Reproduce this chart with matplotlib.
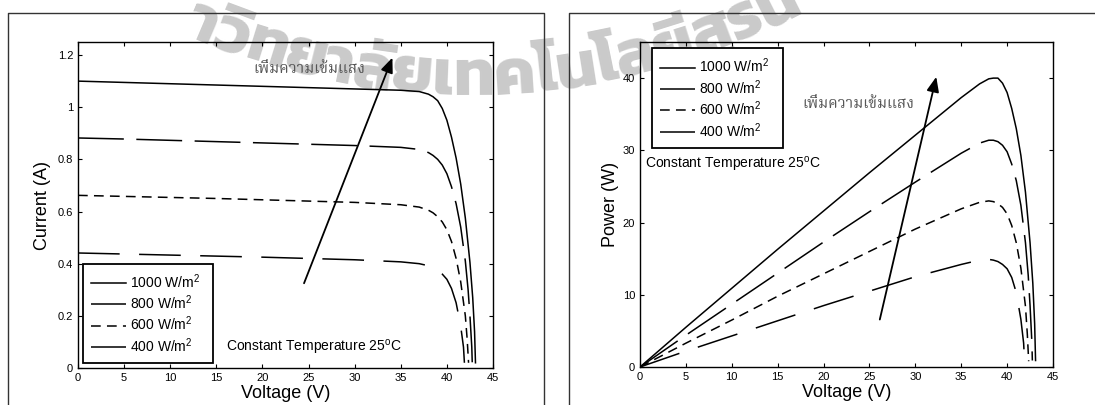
import math
import matplotlib
matplotlib.use('Agg')
import matplotlib.pyplot as plt
from matplotlib.ticker import FormatStrFormatter
from matplotlib.lines import Line2D

plt.rcParams['font.family'] = ['Liberation Sans', 'DejaVu Sans']
plt.rcParams['mathtext.fontset'] = 'custom'
plt.rcParams['mathtext.rm'] = 'Liberation Sans'
plt.rcParams['mathtext.it'] = 'Liberation Sans:italic'
plt.rcParams['lines.scale_dashes'] = False

labels = ['1000 W/m$^2$  ', '800 W/m$^2$  ', '600 W/m$^2$  ', '400 W/m$^2$  ']

v1000 = [0, 5, 10, 15, 20, 25, 30, 35, 37, 38, 38.5, 39, 39.5, 40, 40.5, 41, 41.5, 42, 42.5, 42.8, 43.0, 43.1]
i1000 = [1.100, 1.095, 1.090, 1.085, 1.080, 1.075, 1.070, 1.065, 1.060, 1.050, 1.040, 1.025, 0.995, 0.950, 0.885, 0.805, 0.705, 0.575, 0.405, 0.270, 0.140, 0.020]
p1000 = [0, 5.5, 10.9, 16.3, 21.6, 26.9, 32.1, 37.3, 39.2, 39.9, 40.0, 40.0, 39.3, 38.0, 35.8, 33.0, 29.3, 24.2, 17.2, 11.6, 6.0, 0.9]

v800 = [0, 5, 10, 15, 20, 25, 30, 35, 37, 38, 38.5, 39, 39.5, 40, 40.5, 41, 41.5, 42, 42.3, 42.5, 42.7, 42.75]
i800 = [0.882, 0.878, 0.873, 0.868, 0.863, 0.858, 0.853, 0.846, 0.838, 0.826, 0.815, 0.800, 0.778, 0.745, 0.695, 0.630, 0.540, 0.410, 0.300, 0.200, 0.080, 0.020]
p800 = [0, 4.4, 8.7, 13.0, 17.3, 21.5, 25.6, 29.6, 31.0, 31.4, 31.4, 31.2, 30.7, 29.8, 28.1, 25.8, 22.4, 17.2, 12.7, 8.5, 3.4, 0.9]

v600 = [0, 5, 10, 15, 20, 25, 30, 35, 37, 38, 38.5, 39, 39.5, 40, 40.5, 41, 41.5, 42, 42.2, 42.35]
i600 = [0.662, 0.658, 0.654, 0.650, 0.645, 0.640, 0.635, 0.626, 0.617, 0.605, 0.595, 0.580, 0.560, 0.530, 0.485, 0.420, 0.330, 0.200, 0.110, 0.020]
p600 = [0, 3.3, 6.5, 9.8, 12.9, 16.0, 19.1, 21.9, 22.8, 23.0, 22.9, 22.6, 22.1, 21.2, 19.6, 17.2, 13.7, 8.4, 4.6, 0.8]

v400 = [0, 5, 10, 15, 20, 25, 30, 35, 37, 38, 38.5, 39, 39.5, 40, 40.5, 41, 41.5, 41.8, 41.9]
i400 = [0.441, 0.437, 0.433, 0.429, 0.425, 0.420, 0.415, 0.407, 0.400, 0.392, 0.385, 0.375, 0.360, 0.340, 0.305, 0.250, 0.160, 0.080, 0.020]
p400 = [0, 2.2, 4.3, 6.4, 8.5, 10.5, 12.5, 14.2, 14.8, 14.9, 14.8, 14.6, 14.2, 13.6, 12.4, 10.3, 6.6, 3.3, 0.8]

volts = [v1000, v800, v600, v400]
currents = [i1000, i800, i600, i400]
powers = [p1000, p800, p600, p400]
dashes = [None, (33, 9), (7, 4.5), (30, 14)]

thai_label = 'เพิ่มความเข้มแสง'
thai_family = ['Norasi', 'Noto Serif Thai', 'FreeSerif', 'DejaVu Sans']
# visible part of the watermark, one glyph cluster per entry, set along an arc
wm_clusters = ['า', 'วิ', 'ท', 'ย', 'า', 'ลั', 'ย', 'เ', 'ท', 'ค', 'โ', 'น',
               'โ', 'ล', 'ยี', 'สุ', 'ร', 'น']

W, H = 1095, 405
fig = plt.figure(figsize=(W / 100, H / 100), dpi=100)
ax1 = fig.add_axes([78 / W, 1 - 368 / H, 415 / W, 326 / H])
ax2 = fig.add_axes([640 / W, 1 - 367 / H, 413 / W, 325 / H])


def draw(ax, ys):
    ax.patch.set_alpha(0)
    for v, y, d, lab in zip(volts, ys, dashes, labels):
        ln, = ax.plot(v, y, color='k', lw=1.1, label=lab)
        if d is not None:
            ln.set_dashes(d)
    ax.set_xlim(0, 45)
    ax.set_xticks(range(0, 46, 5))
    ax.tick_params(direction='in', length=3, top=True, right=True, labelsize=8, pad=3.5)
    ax.yaxis.set_major_formatter(FormatStrFormatter('%g'))
    ax.set_xlabel('Voltage (V)', fontsize=13, labelpad=1.5)
    for s in ax.spines.values():
        s.set_linewidth(1.0)


def legend(ax, **kw):
    leg = ax.legend(borderaxespad=0, fontsize=10, handlelength=2.5, handletextpad=0.3,
                    borderpad=0.6, labelspacing=0.2, fancybox=False, edgecolor='k',
                    framealpha=1, **kw)
    leg.get_frame().set_linewidth(1.3)


arrow = dict(arrowstyle='-|>,head_length=0.6,head_width=0.25', color='k', lw=1.3, mutation_scale=15)

draw(ax1, currents)
ax1.set_ylim(0, 1.25)
ax1.set_yticks([0, 0.2, 0.4, 0.6, 0.8, 1.0, 1.2])
ax1.set_ylabel('Current (A)', fontsize=13, labelpad=5)
legend(ax1, loc='lower left', bbox_to_anchor=(0.011, 0.015))
ax1.text(16.06, 0.0795, 'Constant Temperature 25$^{\\rm o}$C', fontsize=10, va='center')
ax1.text(19.0, 1.146, thai_label, fontsize=11, va='center', color='#555555', family=thai_family)
ax1.annotate('', xy=(34.2, 1.2), xytext=(24.4, 0.315), arrowprops=arrow)

draw(ax2, powers)
ax2.set_ylim(0, 45)
ax2.set_yticks(range(0, 41, 10))
ax2.set_ylabel('Power (W)', fontsize=13, labelpad=3)
legend(ax2, loc='upper left', bbox_to_anchor=(0.029, 0.98))
ax2.text(0.57, 28.0, 'Constant Temperature 25$^{\\rm o}$C', fontsize=10, va='center')
ax2.text(17.7, 36.3, thai_label, fontsize=11, va='center', color='#555555', family=thai_family)
ax2.annotate('', xy=(32.35, 40.55), xytext=(26.06, 6.2), arrowprops=arrow)

# outer panel frames
for xs, ys in [([8, 8, 544, 544], [405, 12.5, 12.5, 405]), ([569, 569, 1095], [405, 12.5, 12.5])]:
    fig.add_artist(Line2D([x / W for x in xs], [1 - y / H for y in ys], color='#333333', lw=1.0))

# watermark: circle centre above the page, lowest baseline at y=95 px
R, cx, low = 700.0, 470.0, 95.0
wm_kw = dict(fontsize=47, family=['Kanit', 'DejaVu Sans'], weight='bold', color='#cacaca',
             ha='center', va='baseline', rotation_mode='anchor', zorder=-1)
renderer = fig.canvas.get_renderer()
widths = []
for c in wm_clusters:
    t = fig.text(0, 0, c, **wm_kw)
    widths.append(t.get_window_extent(renderer).width)
    t.remove()
s = R * math.asin((183 - cx) / R)
for c, w in zip(wm_clusters, widths):
    phi = (s + w / 2) / R
    x = cx + R * math.sin(phi)
    y = low - R + R * math.cos(phi)
    fig.text(x / W, 1 - y / H, c, rotation=math.degrees(phi), **wm_kw)
    s += w

fig.savefig('out.png', dpi=100)
